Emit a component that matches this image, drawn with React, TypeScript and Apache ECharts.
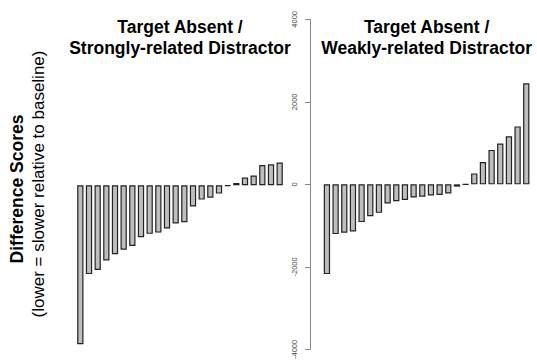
import React, { useEffect, useRef } from "react";
import * as echarts from "echarts";

const categories = ["1", "2", "3", "4", "5", "6", "7", "8", "9", "10", "11", "12", "13", "14", "15", "16", "17", "18", "19", "20", "21", "22", "23", "24"];
const strongValues = [-3830, -2140, -2040, -1810, -1660, -1550, -1460, -1250, -1170, -1140, -1040, -920, -890, -510, -345, -300, -200, -15, 55, 185, 235, 490, 505, 550];
const weakValues = [-2175, -1205, -1170, -1140, -915, -770, -690, -465, -410, -380, -320, -300, -270, -255, -220, -55, -5, 265, 540, 835, 990, 1165, 1405, 2450];
const panelTitles = ["Target Absent /\nStrongly-related Distractor", "Target Absent /\nWeakly-related Distractor"];
const yTitle = "Difference Scores";
const ySubtitle = "(lower = slower relative to baseline)";
const yMin = -4000;
const yMax = 4000;
const yInterval = 2000;

export default function App() {
  const ref = useRef<HTMLDivElement>(null);
  useEffect(() => {
    const chart = echarts.init(ref.current!, null, { renderer: "svg" });
    const font = "'Liberation Sans', Arial, Helvetica, sans-serif";
    const barStyle = { color: "#bebebe", borderColor: "#222", borderWidth: 1.2 };
    const titleStyle = { fontFamily: font, fontSize: 17.5, fontWeight: "bold", color: "#000", lineHeight: 21.5 };
    chart.setOption({
      animation: false,
      backgroundColor: "#fff",
      title: [
        { text: panelTitles[0], left: 180, top: 16, padding: 0, textAlign: "center", textStyle: titleStyle },
        { text: panelTitles[1], left: 426.6, top: 16, padding: 0, textAlign: "center", textStyle: titleStyle },
      ],
      grid: [
        { left: 76, top: 19.3, width: 208, height: 332 },
        { left: 322.6, top: 19.3, width: 208, height: 332 },
      ],
      xAxis: [
        { type: "category", gridIndex: 0, data: categories, show: false },
        { type: "category", gridIndex: 1, data: categories, show: false },
      ],
      yAxis: [
        { type: "value", gridIndex: 0, min: yMin, max: yMax, interval: yInterval, show: false },
        {
          type: "value",
          gridIndex: 1,
          min: yMin,
          max: yMax,
          interval: yInterval,
          offset: 12.6,
          axisLine: { show: true, lineStyle: { color: "#888", width: 1 } },
          axisTick: { show: true, length: 5, lineStyle: { color: "#888", width: 1 } },
          axisLabel: {
            rotate: 90,
            fontSize: 7.5,
            color: "#444",
            margin: 12,
            fontFamily: font,
            formatter: (v: number) => String(v),
          },
          splitLine: { show: false },
        },
      ],
      series: [
        { type: "bar", xAxisIndex: 0, yAxisIndex: 0, data: strongValues, barWidth: 6.3, itemStyle: barStyle },
        { type: "bar", xAxisIndex: 1, yAxisIndex: 1, data: weakValues, barWidth: 6.3, itemStyle: barStyle },
      ],
      graphic: [
        {
          type: "text",
          x: 17,
          y: 189,
          rotation: Math.PI / 2,
          style: { text: yTitle, align: "center", verticalAlign: "middle", fontFamily: font, fontSize: 17.5, fontWeight: "bold", fill: "#000" },
        },
        {
          type: "text",
          x: 38,
          y: 184,
          rotation: Math.PI / 2,
          style: { text: ySubtitle, align: "center", verticalAlign: "middle", fontFamily: font, fontSize: 17, fill: "#000" },
        },
      ],
    });
    return () => chart.dispose();
  }, []);
  return <div ref={ref} style={{ position: "fixed", left: 0, top: 0, width: 537, height: 362 }} />;
}
